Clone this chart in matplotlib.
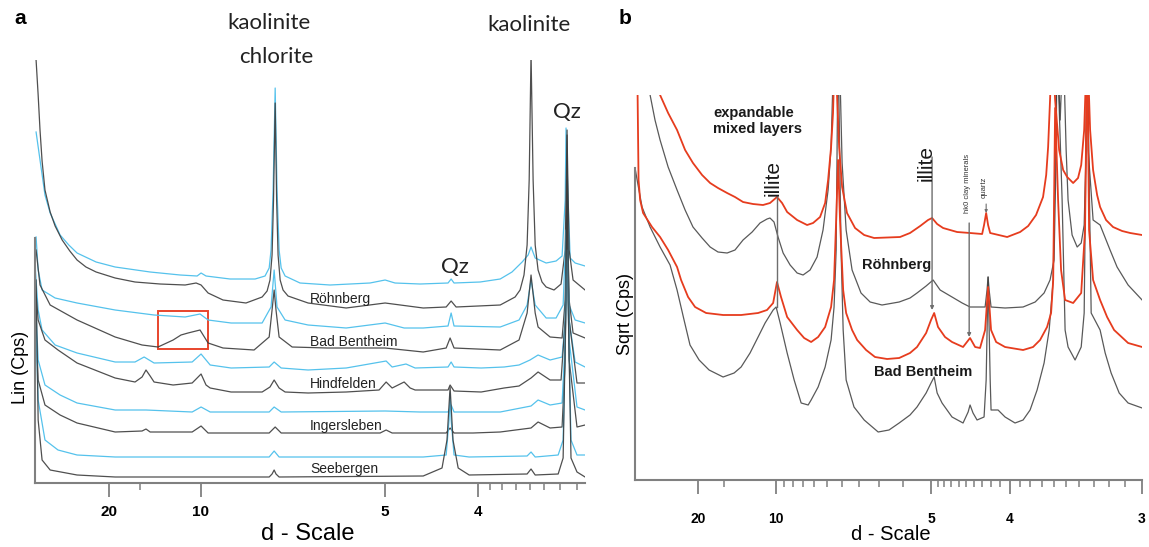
"""
Clay-fraction XRD patterns of the five sandstones (panel a, linear counts) and
a close-up of Roehnberg / Bad Bentheim on a square-root scale (panel b).

x data are 2-theta positions (deg, Cu K-alpha) read off the figure; the axis is
labelled in d-spacing, so tick positions are converted with Bragg's law.
y data are arbitrary stacked intensities (offsets included).

Run: python3 plot.py  -> out.png
"""
import numpy as np
import matplotlib.pyplot as plt
from matplotlib.patches import Rectangle

LAMBDA = 1.5406  # Cu K-alpha, Angstrom

BLUE = "#55c2ec"
BLACK = "#3c3c3c"
RED = "#e63c1e"
GREY = "#808080"

# ------------------------------------------------------------------ panel a
samples_a = ["Röhnberg", "Bad Bentheim", "Hindfelden", "Ingersleben", "Seebergen"]

rohnberg_blue_2th = [0.87, 1.06, 1.30, 1.55, 2.03, 2.45, 2.85, 3.77, 4.69, 6.38, 7.83, 8.65, 8.84,
                     9.08, 10.24, 11.45, 11.93, 12.13, 12.22, 12.32, 12.42, 12.51, 12.61, 12.71,
                     12.90, 13.62, 15.07, 17.00, 17.73, 18.21, 19.42, 20.77, 20.92, 21.06, 22.32,
                     23.29, 23.86, 24.35, 24.64, 24.78, 24.98, 25.51, 25.99, 26.28, 26.43, 26.47,
                     26.57, 26.67, 26.91, 27.39]
rohnberg_blue_int = [351, 323, 288, 270, 248, 238, 230, 221, 216, 211, 208, 207, 210,
                     207, 204, 204, 207, 215, 233, 293, 395, 293, 233, 215,
                     207, 200, 198, 200, 203, 200, 199, 200, 204, 200, 201,
                     204, 211, 221, 228, 236, 225, 220, 222, 227, 283, 355,
                     283, 225, 220, 217]

rohnberg_black_2th = [0.87, 0.97, 1.06, 1.16, 1.30, 1.55, 1.79, 2.13, 2.50, 2.85, 3.28, 3.77, 4.69,
                      5.65, 6.86, 8.07, 8.60, 8.84, 9.18, 9.90, 11.01, 11.79, 12.03, 12.17, 12.27,
                      12.34, 12.42, 12.49, 12.56, 12.66, 12.80, 13.04, 14.01, 15.85, 17.73, 19.57,
                      20.68, 20.92, 21.16, 23.29, 24.01, 24.25, 24.44, 24.59, 24.69, 24.78, 24.88,
                      24.98, 25.12, 25.31, 25.51, 25.89, 26.23, 26.43, 26.52, 26.62, 26.81, 27.39]
rohnberg_black_int = [423, 388, 353, 322, 293, 271, 257, 243, 232, 223, 216, 211, 205,
                      201, 199, 198, 200, 198, 190, 183, 180, 186, 192, 203, 228,
                      283, 380, 283, 228, 203, 193, 187, 180, 175, 180, 175,
                      176, 182, 176, 178, 186, 193, 208, 238, 303, 430, 303,
                      238, 213, 201, 196, 193, 199, 233, 348, 233, 203, 193]

bentheim_blue_2th = [0.87, 0.97, 1.16, 1.79, 2.85, 4.69, 6.57, 8.07, 8.79, 9.18, 10.29, 11.79,
                     12.22, 12.37, 12.51, 12.90, 14.01, 15.85, 17.73, 18.65, 19.57, 20.77, 20.92,
                     21.06, 23.29, 24.20, 24.59, 24.78, 24.98, 25.51, 25.99, 26.33, 26.47, 26.62,
                     26.91, 27.39]
bentheim_blue_int = [246, 213, 193, 185, 180, 173, 168, 166, 169, 163, 160, 160,
                     176, 213, 176, 163, 158, 155, 160, 155, 155, 157, 170,
                     157, 156, 163, 178, 203, 178, 165, 165, 178, 253, 178,
                     163, 160]

bentheim_black_2th = [0.87, 1.06, 1.55, 2.85, 4.69, 5.99, 6.76, 7.49, 7.87, 8.21, 8.79, 9.18, 9.90,
                      11.40, 12.13, 12.27, 12.37, 12.46, 12.61, 13.24, 14.93, 17.73, 19.57, 20.68,
                      20.87, 21.06, 23.29, 24.20, 24.59, 24.78, 24.98, 25.12, 25.70, 26.28, 26.43,
                      26.52, 26.62, 26.81, 27.39]
bentheim_black_int = [233, 198, 178, 163, 146, 138, 136, 143, 148, 150, 153, 140, 135,
                      133, 146, 173, 193, 173, 146, 136, 135, 135, 131, 135,
                      145, 135, 133, 143, 170, 208, 170, 156, 146, 145, 183,
                      283, 183, 150, 145]

hindfelden_blue_2th = [0.82, 0.97, 1.16, 1.79, 2.85, 4.69, 5.65, 6.09, 6.57, 8.41, 8.84, 9.28, 10.29,
                       12.13, 12.37, 12.71, 14.01, 15.85, 17.78, 18.07, 18.74, 19.18, 20.77, 20.92,
                       21.06, 22.37, 23.48, 24.20, 24.73, 25.12, 25.70, 26.28, 26.43, 26.52, 26.62,
                       26.91, 27.39]
hindfelden_blue_int = [218, 173, 153, 138, 130, 121, 121, 126, 120, 121, 129, 118, 115,
                       116, 121, 115, 113, 115, 122, 116, 119, 115, 116, 121,
                       116, 115, 116, 118, 123, 128, 123, 126, 163, 283, 163,
                       121, 116]

hindfelden_black_2th = [0.82, 0.97, 1.30, 1.93, 2.85, 4.69, 5.65, 5.99, 6.18, 6.38, 6.57, 7.49, 8.41,
                        8.84, 9.08, 9.28, 10.29, 11.79, 12.17, 12.37, 12.61, 12.90, 14.01, 15.85,
                        17.44, 17.78, 18.07, 18.65, 18.94, 19.18, 20.77, 20.87, 21.06, 22.37, 23.48,
                        24.20, 24.78, 25.12, 25.70, 26.23, 26.43, 26.52, 26.62, 27.00, 27.39]
hindfelden_black_int = [203, 163, 143, 133, 120, 105, 101, 106, 113, 107, 101, 98, 100,
                        109, 98, 95, 91, 91, 96, 103, 95, 91, 90, 91,
                        93, 101, 95, 101, 95, 93, 93, 98, 92, 91, 95,
                        97, 105, 111, 103, 103, 163, 303, 163, 100, 100]

ingersleben_blue_2th = [0.82, 0.97, 1.30, 2.03, 2.85, 4.69, 6.18, 8.41, 8.84, 9.28, 12.13, 12.37,
                        12.71, 17.73, 19.42, 20.77, 20.92, 21.06, 23.29, 24.78, 25.12, 25.70, 26.28,
                        26.43, 26.52, 26.62, 27.00, 27.39]
ingersleben_blue_int = [193, 123, 98, 88, 80, 73, 73, 71, 76, 71, 71, 76,
                        71, 72, 71, 71, 78, 71, 71, 77, 83, 78, 80,
                        143, 283, 143, 76, 73]

ingersleben_black_2th = [0.82, 0.97, 1.30, 2.03, 2.85, 4.69, 5.99, 6.18, 6.38, 8.41, 8.84, 9.18,
                         12.13, 12.42, 12.71, 17.49, 17.78, 18.07, 20.68, 20.87, 21.06, 21.98, 23.29,
                         24.78, 25.12, 25.70, 26.28, 26.43, 26.52, 26.62, 27.00, 27.39]
ingersleben_black_int = [183, 103, 78, 68, 60, 51, 52, 54, 51, 51, 57, 50,
                         50, 56, 50, 50, 53, 50, 50, 55, 50, 50, 51,
                         55, 61, 55, 56, 123, 303, 123, 56, 58]

seebergen_blue_2th = [0.82, 0.97, 1.30, 1.93, 2.85, 4.69, 12.13, 12.37, 12.61, 19.57, 20.68, 20.82,
                      20.87, 20.92, 21.06, 21.79, 24.59, 24.78, 24.98, 26.09, 26.33, 26.52, 26.71,
                      27.00, 27.39]
seebergen_blue_int = [183, 83, 43, 33, 28, 26, 26, 32, 26, 26, 28, 63,
                      90, 63, 28, 26, 27, 31, 26, 28, 43, 233, 43,
                      28, 28]

seebergen_black_2th = [0.87, 0.97, 1.16, 1.55, 2.85, 4.69, 12.13, 12.27, 12.37, 12.46, 12.61, 19.57,
                       20.48, 20.72, 20.87, 21.01, 21.26, 21.79, 24.59, 24.78, 24.98, 26.09, 26.33,
                       26.47, 26.52, 26.57, 26.71, 27.00, 27.39]
seebergen_black_int = [203, 63, 23, 13, 8, 6, 6, 9, 13, 9, 6, 7,
                       15, 43, 96, 43, 15, 8, 9, 14, 8, 9, 25,
                       183, 353, 183, 25, 11, 6]

# ------------------------------------------------------------------ panel b
rohnberg_red_2th = [1.94, 2.23, 2.69, 3.20, 3.66, 4.11, 4.63, 5.09, 5.54, 6.06, 6.51, 6.97, 7.54,
                    8.11, 8.51, 8.91, 9.20, 9.49, 10.06, 10.63, 10.97, 11.37, 11.66, 11.83, 12.00,
                    12.11, 12.23, 12.34, 12.46, 12.63, 12.91, 13.37, 13.89, 14.46, 15.94, 16.51,
                    17.09, 17.54, 17.77, 18.06, 18.40, 19.20, 19.94, 20.63, 20.74, 20.86, 20.97,
                    21.09, 22.06, 22.80, 23.26, 23.71, 24.11, 24.29, 24.40, 24.51, 24.63, 24.80,
                    25.03, 25.26, 25.49, 25.83, 26.11, 26.29, 26.46, 26.63, 26.80, 26.97, 27.20,
                    27.37, 27.71, 28.11, 28.63, 29.09, 29.77]
rohnberg_red_int = [420, 385, 367, 350, 330, 317, 305, 297, 292, 287, 283, 278, 276,
                    275, 277, 283, 277, 268, 260, 255, 257, 263, 277, 300, 333,
                    367, 440, 385, 333, 293, 267, 252, 245, 242, 243, 247,
                    254, 260, 262, 256, 252, 248, 247, 246, 255, 267, 255,
                    247, 243, 248, 254, 265, 283, 305, 333, 380, 440, 380,
                    330, 310, 303, 297, 302, 315, 350, 440, 350, 310, 285,
                    273, 260, 253, 249, 247, 245]

rohnberg_grey_2th = [1.37, 1.66, 1.94, 2.23, 2.69, 3.20, 3.66, 4.11, 4.63, 5.09, 5.54, 6.06, 6.51,
                     6.97, 7.49, 7.94, 8.34, 8.51, 8.74, 8.97, 9.26, 9.66, 10.06, 10.40, 10.80,
                     11.20, 11.54, 11.83, 12.00, 12.17, 12.46, 12.63, 12.86, 13.20, 13.71, 14.23,
                     14.91, 15.89, 16.51, 16.91, 17.43, 17.83, 18.23, 18.91, 19.49, 19.94, 20.80,
                     20.91, 20.97, 21.03, 21.14, 21.94, 22.97, 23.66, 24.17, 24.51, 24.74, 24.86,
                     24.91, 25.09, 25.26, 25.43, 25.54, 25.77, 26.06, 26.29, 26.46, 26.57, 26.63,
                     26.69, 26.97, 27.37, 27.94, 28.34, 28.97, 29.77]
rohnberg_grey_int = [440, 385, 360, 340, 313, 290, 270, 253, 242, 233, 228, 227, 230,
                     240, 248, 257, 261, 262, 258, 243, 227, 215, 207, 205, 210,
                     223, 250, 290, 333, 440, 440, 317, 250, 210, 187, 178,
                     175, 178, 182, 187, 194, 200, 190, 183, 177, 173, 173,
                     190, 203, 190, 173, 172, 173, 178, 187, 200, 220, 330,
                     440, 360, 440, 330, 280, 245, 233, 237, 255, 330, 440,
                     330, 260, 255, 230, 213, 195, 180]

bentheim_red_2th = [0.91, 1.00, 1.09, 1.26, 1.77, 2.23, 2.69, 3.20, 3.43, 3.83, 4.23, 4.86, 5.83,
                    6.86, 7.83, 8.34, 8.69, 8.91, 9.14, 9.49, 10.06, 10.46, 10.86, 11.26, 11.66,
                    12.00, 12.17, 12.29, 12.40, 12.51, 12.69, 12.86, 13.20, 13.49, 14.00, 14.51,
                    15.20, 15.89, 16.51, 16.91, 17.43, 17.71, 17.89, 18.11, 18.51, 18.91, 19.54,
                    19.94, 20.23, 20.51, 20.80, 20.97, 21.14, 21.43, 21.94, 22.97, 23.54, 23.94,
                    24.34, 24.57, 24.69, 24.80, 24.97, 25.14, 25.37, 25.83, 26.29, 26.51, 26.63,
                    26.74, 26.97, 27.37, 27.77, 28.17, 28.97, 29.77]
bentheim_red_int = [440, 300, 280, 267, 253, 243, 230, 213, 200, 183, 173, 167, 165,
                    165, 167, 170, 177, 198, 183, 163, 150, 142, 138, 143, 153,
                    173, 200, 260, 320, 260, 190, 167, 150, 140, 130, 123,
                    121, 122, 127, 133, 147, 160, 167, 153, 143, 138, 133,
                    142, 133, 132, 150, 193, 150, 138, 133, 130, 133, 140,
                    153, 167, 200, 372, 280, 210, 180, 177, 187, 250, 440,
                    250, 200, 180, 163, 150, 137, 133]

bentheim_grey_2th = [0.80, 0.97, 1.20, 1.66, 2.23, 2.80, 3.20, 3.60, 3.94, 4.46, 5.03, 5.83, 6.46,
                     6.86, 7.37, 7.83, 8.23, 8.69, 8.86, 9.09, 9.49, 9.89, 10.29, 10.69, 10.86,
                     11.26, 11.66, 12.00, 12.17, 12.29, 12.40, 12.57, 12.69, 12.86, 13.31, 13.89,
                     14.69, 15.31, 15.89, 16.51, 16.91, 17.43, 17.71, 17.89, 18.06, 18.34, 18.91,
                     19.54, 19.83, 19.94, 20.11, 20.34, 20.74, 20.86, 20.97, 21.09, 21.14, 21.54,
                     21.94, 22.51, 22.97, 23.37, 23.77, 24.17, 24.46, 24.69, 24.91, 25.20, 25.37,
                     25.54, 25.94, 26.29, 26.46, 26.63, 26.86, 27.37, 27.66, 28.00, 28.46, 28.97,
                     29.77]
bentheim_grey_int = [312, 295, 273, 253, 233, 215, 190, 160, 135, 120, 110, 103, 107,
                     113, 127, 143, 157, 170, 173, 157, 127, 100, 77, 75, 80,
                     93, 113, 140, 173, 230, 440, 230, 150, 100, 73, 60,
                     48, 50, 57, 65, 73, 87, 97, 103, 87, 77, 63,
                     57, 68, 75, 67, 60, 63, 100, 203, 100, 70, 70,
                     63, 57, 60, 70, 90, 117, 150, 200, 440, 280, 150,
                     133, 120, 133, 167, 440, 167, 150, 127, 107, 87, 77,
                     72]

# d-spacing ticks (Angstrom)
a_major = [20, 10, 5, 4]
a_minor = [15, 3.9, 3.8, 3.7, 3.6, 3.5, 3.4, 3.3]
b_major = [20, 10, 5, 4, 3]
b_minor = [15, 9.5, 9, 8.5, 8, 7.5, 7, 6.5, 6, 5.5,
           4.9, 4.8, 4.7, 4.6, 4.5, 4.4, 4.3, 4.2, 4.1,
           3.9, 3.8, 3.7, 3.6, 3.5, 3.4, 3.3, 3.2, 3.1]


def two_theta(d):
    """Bragg: d-spacing (A) -> 2-theta (deg) for Cu K-alpha."""
    return 2 * np.degrees(np.arcsin(LAMBDA / (2 * np.asarray(d, dtype=float))))


def d_axis(ax, major, minor, size, pad, weight="bold"):
    ax.set_xticks(two_theta(major))
    ax.set_xticklabels([str(d) for d in major], fontsize=size, fontweight=weight,
                       family="Liberation Sans")
    ax.set_xticks(two_theta(minor), minor=True)
    ax.tick_params(axis="x", which="major", length=10, width=1.3, color=GREY, pad=pad)
    ax.tick_params(axis="x", which="minor", length=5, width=1.1, color=GREY)
    ax.set_yticks([])
    for side in ("top", "right"):
        ax.spines[side].set_visible(False)
    for side in ("left", "bottom"):
        ax.spines[side].set_color(GREY)
        ax.spines[side].set_linewidth(1.5)


def main():
    fig = plt.figure(figsize=(11.49, 5.47), dpi=100)
    ax_a = fig.add_axes([0.0305, 0.117, 0.4787, 0.7733])
    ax_b = fig.add_axes([0.5527, 0.1225, 0.4413, 0.7038])

    # ------------------------------------------------------------- (a)
    pairs = [(rohnberg_blue_2th, rohnberg_blue_int, rohnberg_black_2th, rohnberg_black_int),
             (bentheim_blue_2th, bentheim_blue_int, bentheim_black_2th, bentheim_black_int),
             (hindfelden_blue_2th, hindfelden_blue_int, hindfelden_black_2th, hindfelden_black_int),
             (ingersleben_blue_2th, ingersleben_blue_int, ingersleben_black_2th, ingersleben_black_int),
             (seebergen_blue_2th, seebergen_blue_int, seebergen_black_2th, seebergen_black_int)]
    for bx, by, kx, ky in pairs:
        ax_a.plot(bx, by, color=BLUE, lw=0.9)
        ax_a.plot(kx, ky, color=BLACK, lw=0.9, alpha=0.9)

    ax_a.set_xlim(0.82, 27.39)
    ax_a.set_ylim(0, 423)
    d_axis(ax_a, a_major, a_minor, 11, 6)
    ax_a.spines["left"].set_bounds(0, 245)

    for name, y in zip(samples_a, [184, 141, 99, 57, 14]):
        ax_a.text(14.1, y, name, fontsize=10, family="Liberation Sans",
                  ha="left", va="center", color="#222222")

    ax_a.add_patch(Rectangle((6.76, 134), 2.42, 38, fill=False, ec="#e8452c", lw=1.4))

    top_font = dict(family="Lato", fontsize=16, color="#222222", ha="center", va="center")
    ax_a.text(12.13, 460, "kaolinite", **top_font)
    ax_a.text(12.46, 426, "chlorite", **top_font)
    ax_a.text(24.69, 458, "kaolinite", **top_font)
    ax_a.text(26.52, 371, "Qz", **top_font)
    ax_a.text(21.11, 216, "Qz", **top_font)

    ax_a.set_xlabel("d - Scale", fontsize=17, family="Liberation Sans")
    ax_a.xaxis.set_label_coords(0.496, -0.095)
    ax_a.set_ylabel("Lin (Cps)", fontsize=13, family="Liberation Sans")
    ax_a.yaxis.set_label_coords(-0.011, 0.274)

    # ------------------------------------------------------------- (b)
    ax_b.plot(rohnberg_grey_2th, rohnberg_grey_int, color=BLACK, lw=0.9, alpha=0.85)
    ax_b.plot(bentheim_grey_2th, bentheim_grey_int, color=BLACK, lw=0.9, alpha=0.85)
    ax_b.plot(rohnberg_red_2th, rohnberg_red_int, color=RED, lw=1.3)
    ax_b.plot(bentheim_red_2th, bentheim_red_int, color=RED, lw=1.3)

    ax_b.set_xlim(0.80, 29.77)
    ax_b.set_ylim(0, 385)
    d_axis(ax_b, b_major, b_minor, 10, 13)
    ax_b.spines["left"].set_bounds(0, 312)

    line_kw = dict(color="#6e6e6e", lw=1.0)
    ax_b.plot([8.91, 8.91], [283, 173], **line_kw)
    ax_b.annotate("", xy=(17.77, 170), xytext=(17.77, 323),
                  arrowprops=dict(arrowstyle="-|>", color="#6e6e6e", lw=1.0,
                                  mutation_scale=5, shrinkA=0, shrinkB=0))
    ax_b.annotate("", xy=(19.89, 143), xytext=(19.89, 257),
                  arrowprops=dict(arrowstyle="-|>", color="#6e6e6e", lw=1.0,
                                  mutation_scale=5, shrinkA=0, shrinkB=0))
    ax_b.annotate("", xy=(20.86, 267), xytext=(20.86, 276),
                  arrowprops=dict(arrowstyle="-|>", color="#6e6e6e", lw=0.8,
                                  mutation_scale=4, shrinkA=0, shrinkB=0))

    bold = dict(family="Liberation Sans", fontweight="bold", color="#1a1a1a")
    ax_b.text(5.26, 359, "expandable\nmixed layers", fontsize=10.5, ha="left",
              va="center", linespacing=1.15, **bold)
    ax_b.text(8.69, 284, "illite", fontsize=15, rotation=90, ha="center", va="bottom",
              family="Liberation Sans", color="#1a1a1a")
    ax_b.text(17.43, 299, "illite", fontsize=15, rotation=90, ha="center", va="bottom",
              family="Liberation Sans", color="#1a1a1a")
    ax_b.text(19.77, 297, "hk0 clay minerals", fontsize=5.5, rotation=90, ha="center",
              va="center", family="Liberation Sans", color="#333333")
    ax_b.text(20.74, 293, "quartz", fontsize=5.5, rotation=90, ha="center",
              va="center", family="Liberation Sans", color="#333333")
    ax_b.text(15.77, 215, "Röhnberg", fontsize=10.5, ha="center", va="center", **bold)
    ax_b.text(17.26, 108, "Bad Bentheim", fontsize=10.5, ha="center", va="center", **bold)

    ax_b.set_xlabel("d - Scale", fontsize=14.5, family="Liberation Sans")
    ax_b.xaxis.set_label_coords(0.505, -0.118)
    ax_b.set_ylabel("Sqrt (Cps)", fontsize=13, family="Liberation Sans")
    ax_b.yaxis.set_label_coords(-0.002, 0.43)

    fig.text(20 / 1149, 1 - 18 / 547, "a", fontsize=15, fontweight="bold",
             family="Liberation Sans", ha="center", va="center")
    fig.text(625 / 1149, 1 - 18 / 547, "b", fontsize=15, fontweight="bold",
             family="Liberation Sans", ha="center", va="center")

    fig.savefig("out.png", dpi=100)


if __name__ == "__main__":
    main()
